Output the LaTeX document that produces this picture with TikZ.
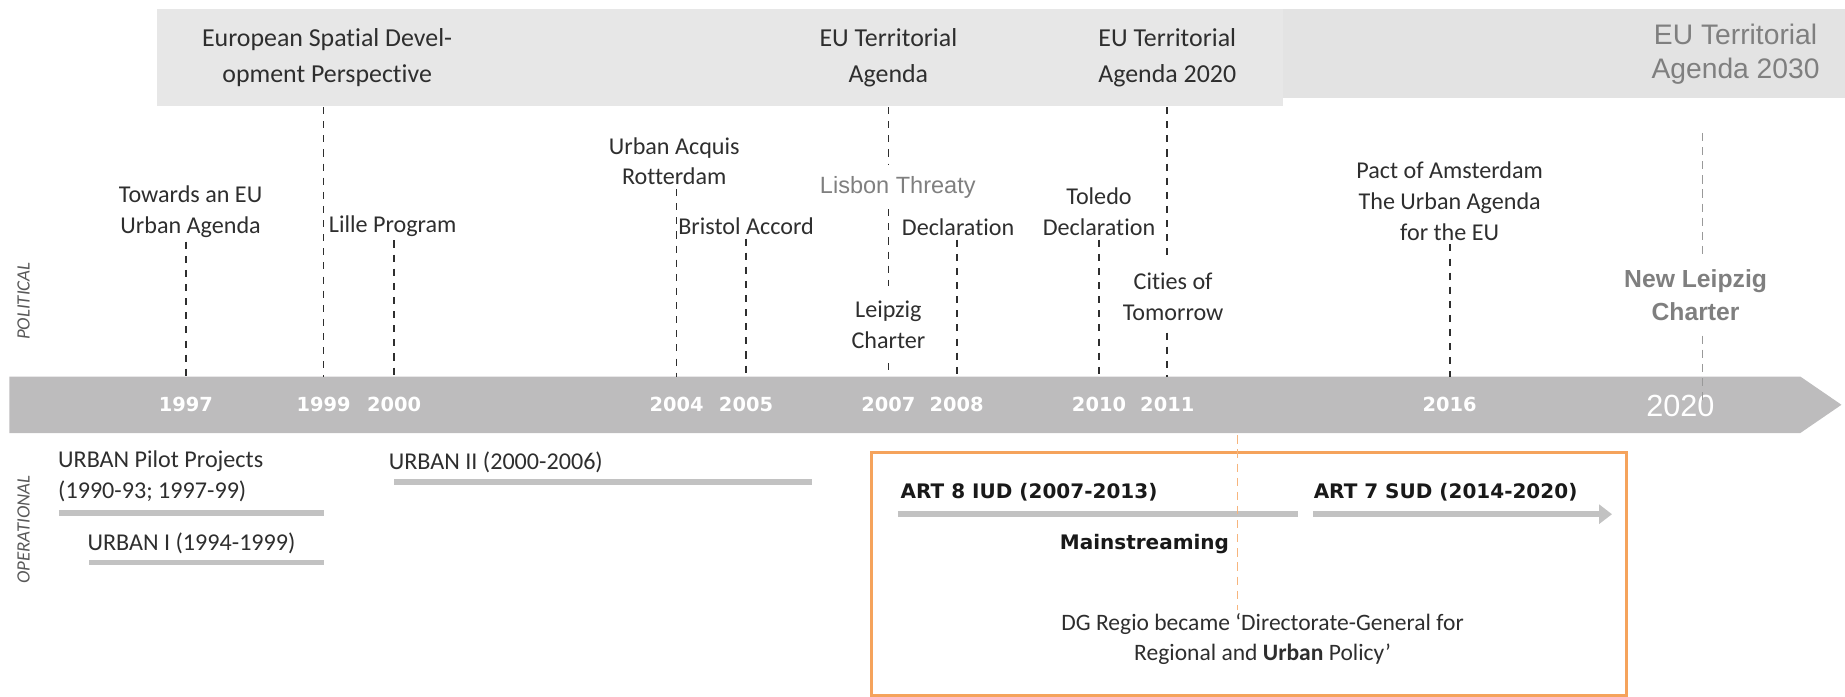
\documentclass[tikz,border=0pt]{standalone}
\usepackage{fontspec}
\setmainfont{Carlito}[Ligatures=NoCommon]
\newfontfamily\arialfont{Liberation Sans}
\newfontfamily\squarebold{DejaVu Sans Bold}
\usepackage{tikz}
\usetikzlibrary{positioning,calc}
\usetikzlibrary{arrows.meta}

\definecolor{bandgray}{HTML}{E7E7E7}
\definecolor{bandgraytwo}{HTML}{E3E3E3}
\definecolor{bargray}{HTML}{BDBCBD}
\definecolor{rungray}{HTML}{C2C2C2}
\definecolor{txtdark}{HTML}{2E2E2E}
\definecolor{txtgray}{HTML}{7F7F7F}
\definecolor{boxorange}{HTML}{F5A35C}

\tikzset{
	topband/.style={fill=#1, draw=none, anchor=north west, inner sep=0pt},
	bandtext/.style={align=center, text=txtdark, font=\fontsize{22}{30}\selectfont},
	event/.style={align=center, text=txtdark, font=\fontsize{20.5}{26}\selectfont, inner sep=3pt},
	grayevent/.style={align=center, text=txtgray, font=\arialfont\fontsize{20}{28}\selectfont},
	eventline/.style={draw=txtdark, line width=1.5pt, dash pattern=on 6pt off 6pt},
	lightline/.style={draw=txtgray!80, line width=1pt, dash pattern=on 7pt off 5pt},
	yearlbl/.style={text=white, font=\squarebold\fontsize{16.5}{18}\selectfont},
	runbar/.style={draw=rungray, line width=5pt},
	boldlbl/.style={text=black!90, font=\squarebold\fontsize{17}{20}\selectfont, inner sep=2pt},
	sidelbl/.style={rotate=90, text=txtdark!80, font=\itshape\fontsize{16}{18}\selectfont},
}

\begin{document}
\begin{tikzpicture}[x=1pt, y=-1pt, line width=1pt]
	\useasboundingbox (0,0) rectangle (1568,592);

	% top bands
	\node[topband=bandgraytwo, minimum width=505, minimum height=76] (band2) at (1063,7) {};
	\node[topband=bandgray, minimum width=957, minimum height=83] (band1) at (133,7) {};
	\node[bandtext] (espd) at (278,49) {European Spatial Devel-\\opment Perspective};
	\node[bandtext] (eta) at (755,49) {EU Territorial\\Agenda};
	\node[bandtext] (eta20) at (992,49) {EU Territorial\\Agenda 2020};
	\node[grayevent, font=\arialfont\fontsize{24}{29}\selectfont] (eta30) at (1475,46) {EU Territorial\\Agenda 2030};

	% timeline
	\fill[bargray] (8,320) -- (1530,320) -- (1565,344) -- (1530,368) -- (8,368) -- cycle;
	\coordinate (bartop) at (8,320);
	\foreach \yr/\xx in {1997/158, 1999/275, 2000/335, 2004/575, 2005/634, 2007/755,
		2008/813, 2010/934, 2011/992, 2016/1232}
		\node[yearlbl] (y\yr) at (\xx,344) {\yr};
	\node[text=white, font=\arialfont\fontsize{26}{28}\selectfont] (y2020) at (1428,345) {2020};

	\node[sidelbl] (political) at (20,256) {POLITICAL};
	\node[sidelbl] (operational) at (20,450) {OPERATIONAL};

	% political events
	\node[event] (towards) at (162,180) {Towards an EU\\Urban Agenda};
	\node[event, anchor=west] (lille) at (276,192) {Lille Program};
	\node[event] (acquis) at (573,137) {Urban Acquis\\Rotterdam};
	\node[event, anchor=west] (bristol) at (573,192) {Bristol Accord};
	\node[grayevent, inner sep=9pt] (lisbon) at (763,159) {Lisbon Threaty};
	\node[event, anchor=west] (decl) at (763,193) {Declaration};
	\node[event, inner sep=12pt] (leipzig) at (755,276) {Leipzig\\Charter};
	\node[event] (toledo) at (934,180) {Toledo\\Declaration};
	\node[event, inner sep=10pt] (cities) at (997,252) {Cities of\\Tomorrow};
	\node[event] (pact) at (1232,171) {Pact of Amsterdam\\The Urban Agenda\\for the EU};
	\node[grayevent, font=\arialfont\bfseries\fontsize{21}{28}\selectfont, inner sep=12pt] (newleipzig) at (1441,251) {New Leipzig\\Charter};
	\coordinate (nlc) at (1447,113);

	\draw[eventline] (y1997 |- towards.south) -- (y1997 |- bartop);
	\draw[eventline] (y1999 |- band1.south) -- (y1999 |- bartop);
	\draw[eventline] (y2000 |- lille.south) -- (y2000 |- bartop);
	\draw[eventline] (y2004 |- acquis.south) -- (y2004 |- bartop);
	\draw[eventline] (y2005 |- bristol.south) -- (y2005 |- bartop);
	\draw[eventline] (y2007 |- band1.south) -- (y2007 |- lisbon.north);
	\draw[eventline] (y2007 |- lisbon.south) -- (y2007 |- leipzig.north);
	\draw[eventline] (y2007 |- leipzig.south) -- (y2007 |- bartop);
	\draw[eventline] (y2008 |- decl.south) -- (y2008 |- bartop);
	\draw[eventline] (y2010 |- toledo.south) -- (y2010 |- bartop);
	\draw[eventline] (y2011 |- band1.south) -- (y2011 |- cities.north);
	\draw[eventline] (y2011 |- cities.south) -- (y2011 |- bartop);
	\draw[eventline] (y2016 |- pact.south) -- (y2016 |- bartop);
	\draw[lightline] (nlc) -- (nlc |- newleipzig.north);
	\draw[lightline] (nlc |- newleipzig.south) -- (nlc |- y2020.center);

	% operational programmes
	\node[event, anchor=south west, align=left] (pilot) at (46,430) {URBAN Pilot Projects\\(1990-93; 1997-99)};
	\node[event, anchor=south west] (urban1) at (71,474) {URBAN I (1994-1999)};
	\node[event, anchor=south west] (urban2) at (327,405) {URBAN II (2000-2006)};
	\draw[runbar] (50,436) -- (y1999 |- 0,436);
	\draw[runbar] (76,478) -- (y1999 |- 0,478);
	\draw[runbar] (y2000 |- 0,410) -- (690,410);

	\node[draw=boxorange, line width=2.5pt, anchor=north west, minimum width=642, minimum height=207] (mainbox) at (739,383) {};
	\node[boldlbl, anchor=west] (art8) at (763,418) {ART 8 IUD (2007-2013)};
	\node[boldlbl, anchor=west] (art7) at (1114,418) {ART 7 SUD (2014-2020)};
	\draw[runbar] (763,437) -- (1103,437);
	\draw[runbar, -{Triangle[length=11pt, width=16pt]}] (1116,437) -- (1370,437);
	\node[boldlbl, anchor=east] (mainstr) at (1047,462) {Mainstreaming};
	\node[event, font=\fontsize{20}{25}\selectfont] (dgregio) at (1073,543) {DG Regio became ‘Directorate-General for\\Regional and \textbf{Urban} Policy’};
	\coordinate (split) at (1052,370);
	\draw[boxorange!80, line width=0.9pt, dash pattern=on 7pt off 5pt] (split) -- (split |- dgregio.north);
\end{tikzpicture}
\end{document}
